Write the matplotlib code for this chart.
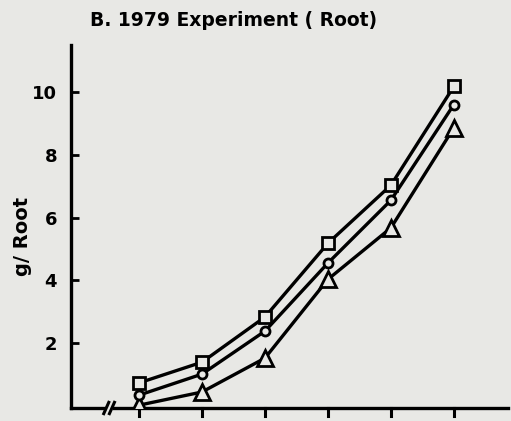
import numpy as np
import matplotlib.pyplot as plt

# valeurs (g / racine)
sample = [1, 2, 3, 4, 5, 6]
square = [0.73, 1.39, 2.83, 5.18, 7.03, 10.18]
circle = [0.34, 1.01, 2.38, 4.55, 6.55, 9.60]
triangle = [0.02, 0.44, 1.52, 4.03, 5.67, 8.86]
yticks = [2, 4, 6, 8, 10]

bg = "#e8e8e5"
plt.rcParams["font.family"] = "DejaVu Sans"

fig = plt.figure(figsize=(5.11, 4.21), dpi=100, facecolor=bg)
ax = fig.add_axes([71 / 511, 13 / 421, 437 / 511, 363 / 421], facecolor=bg)

for vals, mk, ms in [(triangle, "^", 11), (circle, "o", 6.5), (square, "s", 8.5)]:
    ax.plot(sample, vals, color="black", linewidth=2.4, marker=mk, markersize=ms,
            markerfacecolor=bg, markeredgecolor="black", markeredgewidth=2, zorder=3)

ax.set_xlim(-0.08, 6.86)
ax.set_ylim(-0.07, 11.5)

ax.spines["top"].set_visible(False)
ax.spines["right"].set_visible(False)
ax.spines["bottom"].set_visible(False)
ax.spines["left"].set_linewidth(2.4)

# axe x coupé
y0 = -0.07
ax.plot([-0.08, 0.45], [y0, y0], color="black", linewidth=2.4, clip_on=False)
ax.plot([0.60, 6.86], [y0, y0], color="black", linewidth=2.4, clip_on=False)
for xb in [0.48, 0.57]:
    ax.plot([xb - 0.04, xb + 0.04], [y0 - 0.18, y0 + 0.18], color="black",
            linewidth=2.2, clip_on=False)
for xt in sample:
    ax.plot([xt, xt], [y0, y0 - 0.25], color="black", linewidth=2.2, clip_on=False)

ax.set_xticks([])
ax.set_yticks(yticks)
ax.set_yticklabels([str(v) for v in yticks], fontsize=13, fontweight="bold")
ax.tick_params(axis="y", direction="in", length=6, width=2, pad=10)

fig.text(22 / 511, 1 - 236 / 421, "g/ Root", rotation=90, ha="center", va="center",
         fontsize=14, fontweight="bold")
fig.text(234 / 511, 1 - 20 / 421, "B. 1979 Experiment ( Root)", ha="center", va="center",
         fontsize=13.5, fontweight="bold")

fig.savefig("out.png", dpi=100, facecolor=bg)
